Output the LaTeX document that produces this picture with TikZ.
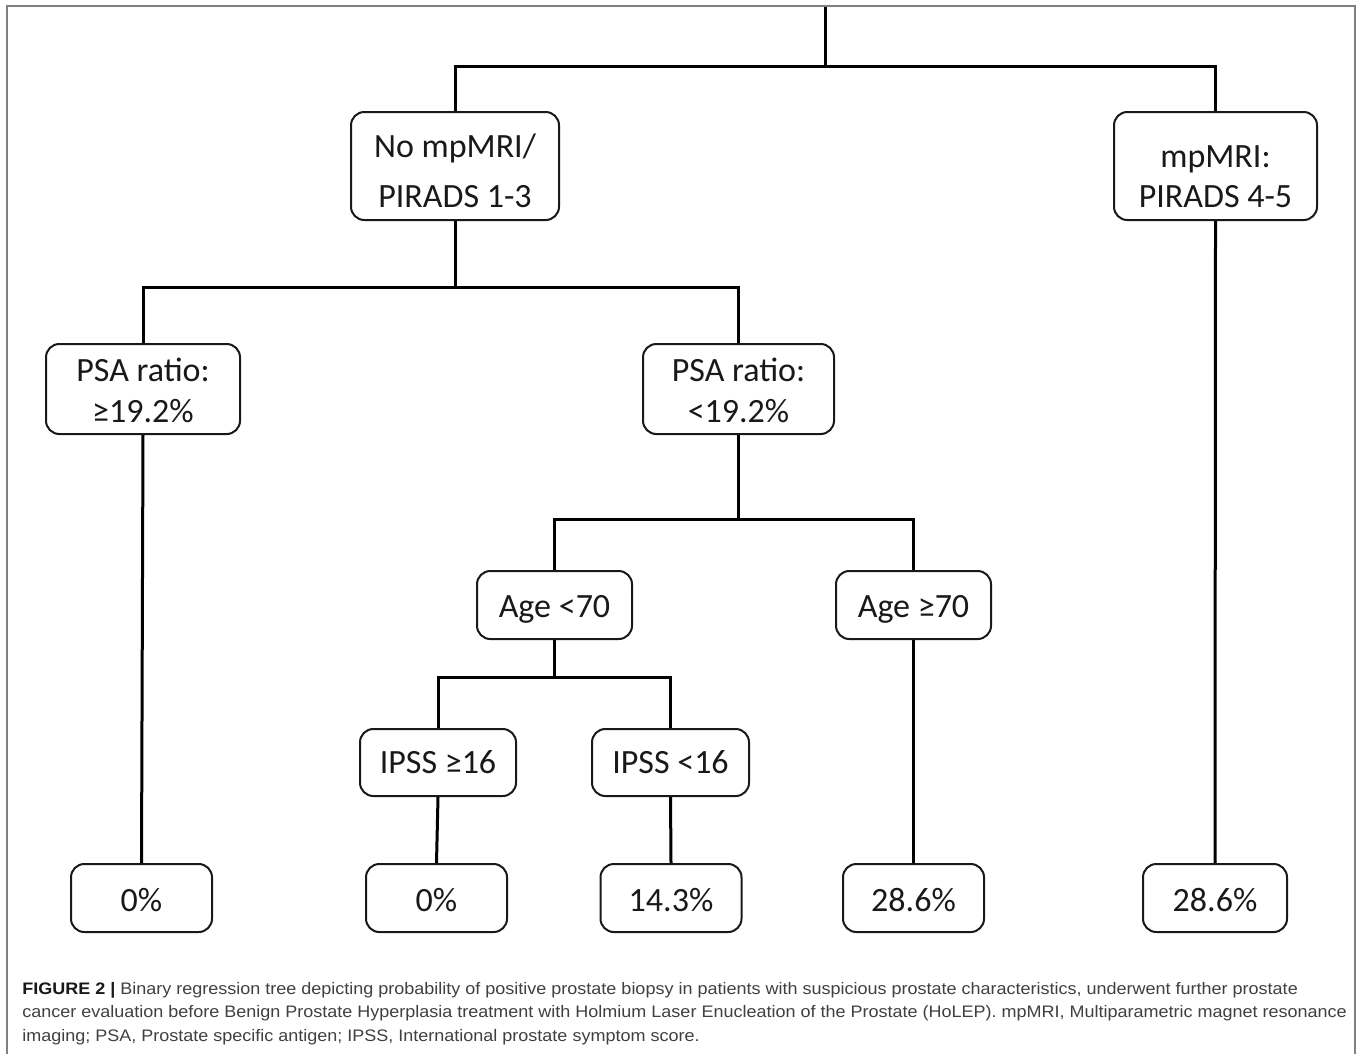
\documentclass[tikz,border=0pt]{standalone}
\usepackage{fontspec}
\setmainfont{Carlito}
\newfontfamily\capfont[FakeStretch=1.08]{Liberation Sans}
% two-line box text: #1 first line, #2 second line, #3 baseline distance, #4 height of first line
\newcommand\twoline[4]{\vbox{\offinterlineskip\halign{\hfil##\hfil\cr
  \rule[-8pt]{0pt}{\dimexpr#4+8pt\relax}#1\cr
  \rule[-6pt]{0pt}{\dimexpr#3-8pt+6pt\relax}#2\cr}}}
\begin{document}
\begin{tikzpicture}[x=0.75pt,y=-0.75pt,
  box/.style={draw=black!90, line width=1.5pt, rounded corners=10pt, inner sep=0pt,
    align=center, text=black!90, font=\fontsize{25.5}{30}\selectfont},
  firsth/.style={execute at begin node={\rule{0pt}{#1}},
    execute at end node={\rule[-6pt]{0pt}{6pt}}},
  leaf/.style={box, firsth=25.5pt, minimum width=105.75pt, minimum height=51pt},
  conn/.style={draw=black, line width=2.25pt},
  capline/.style={anchor=base west, inner sep=0pt, text=black!75,
    font=\capfont\fontsize{12.5}{17}\selectfont}]
\useasboundingbox (0,0) rectangle (1358,1054);
\fill[white] (0,0) rectangle (1358,1054);
% frame
\draw[black!50, line width=1.1pt] (7,1054) -- (7,6) -- (1355,6) -- (1355,1054);

% nodes
\coordinate (top) at (825,7);
\node[box, minimum width=156pt, minimum height=81pt] (nompmri) at (455,166) {\twoline{No mpMRI/}{PIRADS 1-3}{37.5pt}{30pt}};
\node[box, minimum width=152.25pt, minimum height=81pt] (mpmri) at (1215.5,166) {\twoline{mpMRI:}{PIRADS 4-5}{30pt}{37.5pt}};
\node[box, minimum width=145.5pt, minimum height=67.5pt] (psaA) at (143,389) {\twoline{PSA ratio:}{≥19.2\%}{30.75pt}{24.75pt}};
\node[box, minimum width=143.25pt, minimum height=67.5pt] (psaB) at (738.5,389) {\twoline{PSA ratio:}{<19.2\%}{30.75pt}{24.75pt}};
\node[box, firsth=24pt, minimum width=116.25pt, minimum height=51pt] (ageA) at (554.5,605) {Age <70};
\node[box, firsth=24pt, minimum width=116.25pt, minimum height=51pt] (ageB) at (913.5,605) {Age ≥70};
\node[box, firsth=22.5pt, minimum width=117pt, minimum height=50.25pt] (ipssA) at (438,762.5) {IPSS ≥16};
\node[box, firsth=22.5pt, minimum width=117.75pt, minimum height=50.25pt] (ipssB) at (670.5,762.5) {IPSS <16};
\node[leaf] (leafA) at (141.5,898) {0\%};
\node[leaf] (leafB) at (436.5,898) {0\%};
\node[leaf] (leafC) at (671,898) {14.3\%};
\node[leaf] (leafD) at (913.5,898) {28.6\%};
\node[leaf, minimum width=108pt] (leafE) at (1215,898) {28.6\%};

% junction rows
\coordinate (j1) at (825,66);
\coordinate (j2) at (455,287);
\coordinate (j3) at (738.5,519);
\coordinate (j4) at (554.5,677);

% connectors
\draw[conn] (top) -- (j1);
\draw[conn] (nompmri.north) |- (j1) -| (mpmri.north);
\draw[conn] (nompmri.south) -- (j2);
\draw[conn] (psaA.north) |- (j2) -| (psaB.north);
\draw[conn] (psaB.south) -- (j3);
\draw[conn] (ageA.north) |- (j3) -| (ageB.north);
\draw[conn] (ageA.south) -- (j4);
\draw[conn] (ipssA.north) |- (j4) -| (ipssB.north);
\draw[conn] (psaA.south) -- (leafA.north);
\draw[conn] (ipssA.south) -- (leafB.north);
\draw[conn] (ipssB.south) -- (leafC.north);
\draw[conn] (ageB.south) -- (leafD.north);
\draw[conn] (mpmri.south) -- (leafE.north);

% caption
\node[capline] (cap1) at (22,994) {\textbf{\color{black!90}FIGURE 2 |} Binary regression tree depicting probability of positive prostate biopsy in patients with suspicious prostate characteristics, underwent further prostate};
\node[capline] (cap2) at (22,1017) {cancer evaluation before Benign Prostate Hyperplasia treatment with Holmium Laser Enucleation of the Prostate (HoLEP). mpMRI, Multiparametric magnet resonance};
\node[capline] (cap3) at (22,1041) {imaging; PSA, Prostate specific antigen; IPSS, International prostate symptom score.};
\end{tikzpicture}
\end{document}
